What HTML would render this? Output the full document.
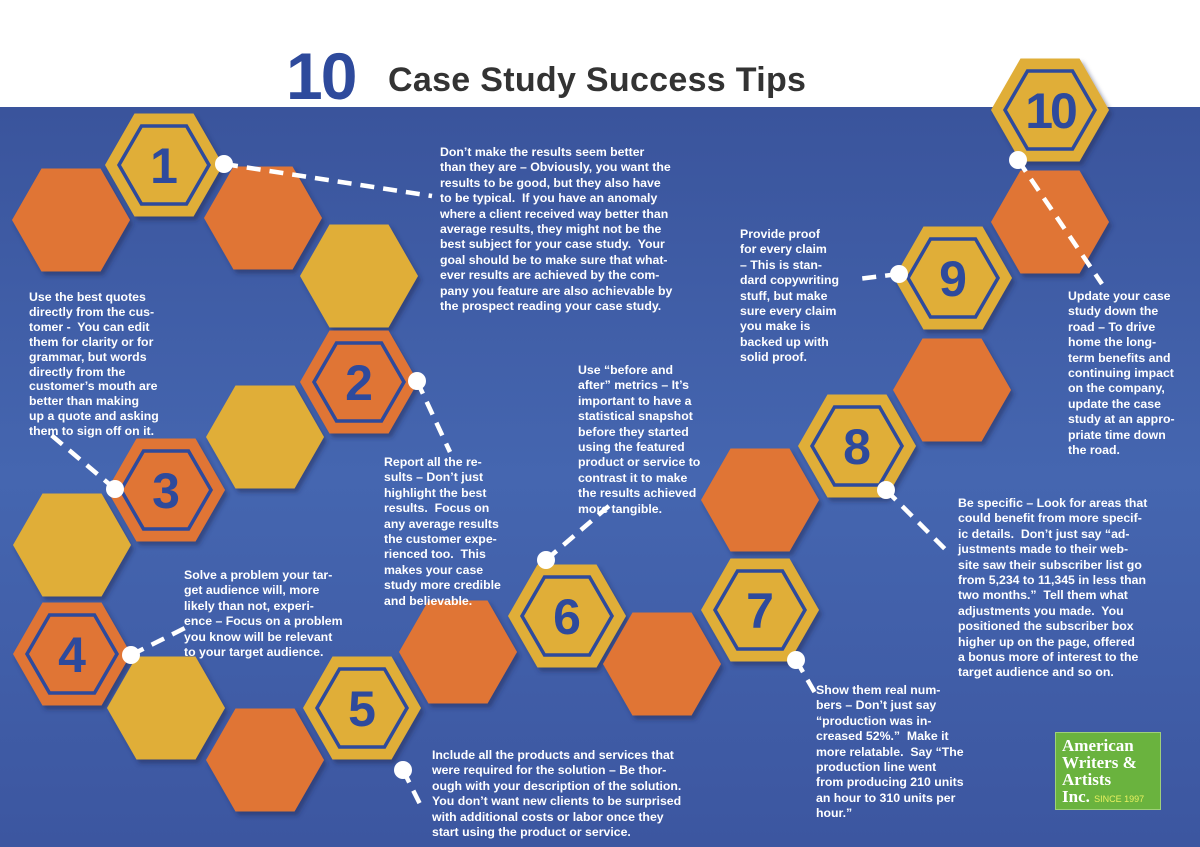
<!DOCTYPE html>
<html><head><meta charset="utf-8"><style>
body{margin:0;width:1200px;height:847px;overflow:hidden;position:relative;font-family:"Liberation Sans",sans-serif;background:#fff}
.bg{position:absolute;left:0;top:107px;width:1200px;height:740px;background:linear-gradient(180deg,#3a549c 0%,#4566b0 50%,#3c56a0 100%)}
svg{position:absolute;left:0;top:0}
.t{position:absolute;color:#fff;font-weight:bold;font-size:12.3px;line-height:15.4px;white-space:nowrap}
h1{position:absolute;margin:0;left:388px;top:61px;font-size:34px;color:#333;font-weight:bold;letter-spacing:0.3px}
.ten{position:absolute;left:286px;top:38px;font-size:66px;font-weight:900;color:#2e4a9c;letter-spacing:-2px}
.logo{position:absolute;left:1055px;top:732px;width:106px;height:78px;background:#6ab33e;border:1px solid #9fd07a;color:#fff;font-weight:900;font-size:17px;line-height:17px;padding:4px 0 0 6px;box-sizing:border-box;font-family:"Liberation Serif",serif}
.logo span{font-family:"Liberation Sans",sans-serif;font-size:9px;color:#e8f060;font-weight:normal}
</style></head><body>
<div class="bg"></div>
<div class="ten">10</div>
<h1>Case Study Success Tips</h1>
<svg width="1200" height="847" viewBox="0 0 1200 847">
<defs>
<polygon id="h" points="-59,0 -29.5,-51.5 29.5,-51.5 59,0 29.5,51.5 -29.5,51.5"/>
<polygon id="i" points="-45,0 -22.5,-39 22.5,-39 45,0 22.5,39 -22.5,39" fill="none" stroke="#2e4a9c" stroke-width="3.5"/>
<filter id="s"><feDropShadow dx="3" dy="4" stdDeviation="2" flood-color="#1d2b55" flood-opacity="0.5"/></filter>
</defs>
<g filter="url(#s)">
<use href="#h" x="71" y="220" fill="#e07535"/>
<use href="#h" x="263" y="218" fill="#e07535"/>
<use href="#h" x="359" y="276" fill="#e0ae38"/>
<use href="#h" x="265" y="437" fill="#e0ae38"/>
<use href="#h" x="72" y="545" fill="#e0ae38"/>
<use href="#h" x="166" y="708" fill="#e0ae38"/>
<use href="#h" x="265" y="760" fill="#e07535"/>
<use href="#h" x="458" y="652" fill="#e07535"/>
<use href="#h" x="662" y="664" fill="#e07535"/>
<use href="#h" x="760" y="500" fill="#e07535"/>
<use href="#h" x="952" y="390" fill="#e07535"/>
<use href="#h" x="1050" y="222" fill="#e07535"/>
<use href="#h" x="164" y="165" fill="#e0ae38"/>
<use href="#h" x="359" y="382" fill="#e07535"/>
<use href="#h" x="166" y="490" fill="#e07535"/>
<use href="#h" x="72" y="654" fill="#e07535"/>
<use href="#h" x="362" y="708" fill="#e0ae38"/>
<use href="#h" x="567" y="616" fill="#e0ae38"/>
<use href="#h" x="760" y="610" fill="#e0ae38"/>
<use href="#h" x="857" y="446" fill="#e0ae38"/>
<use href="#h" x="953" y="278" fill="#e0ae38"/>
<use href="#h" x="1050" y="110" fill="#e0ae38"/>
</g>
<use href="#i" x="164" y="165"/><use href="#i" x="359" y="382"/><use href="#i" x="166" y="490"/><use href="#i" x="72" y="654"/><use href="#i" x="362" y="708"/><use href="#i" x="567" y="616"/><use href="#i" x="760" y="610"/><use href="#i" x="857" y="446"/><use href="#i" x="953" y="278"/><use href="#i" x="1050" y="110"/>
<g font-family="Liberation Sans,sans-serif" font-weight="bold" font-size="50" fill="#2e4a9c" text-anchor="middle">
<text x="164" y="183">1</text><text x="359" y="400">2</text><text x="166" y="508">3</text><text x="72" y="672">4</text><text x="362" y="726">5</text><text x="567" y="634">6</text><text x="760" y="628">7</text><text x="857" y="464">8</text><text x="953" y="296">9</text><text x="1050" y="128" letter-spacing="-3">10</text>
</g>
<g stroke="#fff" stroke-width="4.5" stroke-dasharray="14 9" fill="none">
<line x1="224" y1="164" x2="432" y2="196"/>
<line x1="417" y1="381" x2="450" y2="452"/>
<line x1="115" y1="489" x2="50" y2="434"/>
<line x1="131" y1="655" x2="185" y2="628"/>
<line x1="403" y1="770" x2="422" y2="808"/>
<line x1="546" y1="560" x2="610" y2="505"/>
<line x1="796" y1="660" x2="818" y2="698"/>
<line x1="886" y1="490" x2="948" y2="552"/>
<line x1="899" y1="274" x2="858" y2="279"/>
<line x1="1018" y1="160" x2="1102" y2="284"/>
</g>
<g fill="#fff">
<circle cx="224" cy="164" r="9"/><circle cx="417" cy="381" r="9"/><circle cx="115" cy="489" r="9"/><circle cx="131" cy="655" r="9"/><circle cx="403" cy="770" r="9"/><circle cx="546" cy="560" r="9"/><circle cx="796" cy="660" r="9"/><circle cx="886" cy="490" r="9"/><circle cx="899" cy="274" r="9"/><circle cx="1018" cy="160" r="9"/>
</g>
</svg>
<div class="t" style="left:440px;top:145px">Don’t make the results seem better<br>than they are – Obviously, you want the<br>results to be good, but they also have<br>to be typical.&nbsp; If you have an anomaly<br>where a client received way better than<br>average results, they might not be the<br>best subject for your case study.&nbsp; Your<br>goal should be to make sure that what-<br>ever results are achieved by the com-<br>pany you feature are also achievable by<br>the prospect reading your case study.</div>
<div class="t" style="left:29px;top:290px;line-height:14.9px">Use the best quotes<br>directly from the cus-<br>tomer -&nbsp; You can edit<br>them for clarity or for<br>grammar, but words<br>directly from the<br>customer’s mouth are<br>better than making<br>up a quote and asking<br>them to sign off on it.</div>
<div class="t" style="left:384px;top:455px">Report all the re-<br>sults – Don’t just<br>highlight the best<br>results.&nbsp; Focus on<br>any average results<br>the customer expe-<br>rienced too.&nbsp; This<br>makes your case<br>study more credible<br>and believable.</div>
<div class="t" style="left:184px;top:568px">Solve a problem your tar-<br>get audience will, more<br>likely than not, experi-<br>ence – Focus on a problem<br>you know will be relevant<br>to your target audience.</div>
<div class="t" style="left:432px;top:748px">Include all the products and services that<br>were required for the solution – Be thor-<br>ough with your description of the solution.<br>You don’t want new clients to be surprised<br>with additional costs or labor once they<br>start using the product or service.</div>
<div class="t" style="left:578px;top:363px">Use “before and<br>after” metrics – It’s<br>important to have a<br>statistical snapshot<br>before they started<br>using the featured<br>product or service to<br>contrast it to make<br>the results achieved<br>more tangible.</div>
<div class="t" style="left:816px;top:683px">Show them real num-<br>bers – Don’t just say<br>“production was in-<br>creased 52%.”&nbsp; Make it<br>more relatable.&nbsp; Say “The<br>production line went<br>from producing 210 units<br>an hour to 310 units per<br>hour.”</div>
<div class="t" style="left:958px;top:496px">Be specific – Look for areas that<br>could benefit from more specif-<br>ic details.&nbsp; Don’t just say “ad-<br>justments made to their web-<br>site saw their subscriber list go<br>from 5,234 to 11,345 in less than<br>two months.”&nbsp; Tell them what<br>adjustments you made.&nbsp; You<br>positioned the subscriber box<br>higher up on the page, offered<br>a bonus more of interest to the<br>target audience and so on.</div>
<div class="t" style="left:740px;top:227px">Provide proof<br>for every claim<br>– This is stan-<br>dard copywriting<br>stuff, but make<br>sure every claim<br>you make is<br>backed up with<br>solid proof.</div>
<div class="t" style="left:1068px;top:289px">Update your case<br>study down the<br>road – To drive<br>home the long-<br>term benefits and<br>continuing impact<br>on the company,<br>update the case<br>study at an appro-<br>priate time down<br>the road.</div>
<div class="logo">American<br>Writers &amp;<br>Artists<br>Inc. <span>SINCE 1997</span></div>
</body></html>
